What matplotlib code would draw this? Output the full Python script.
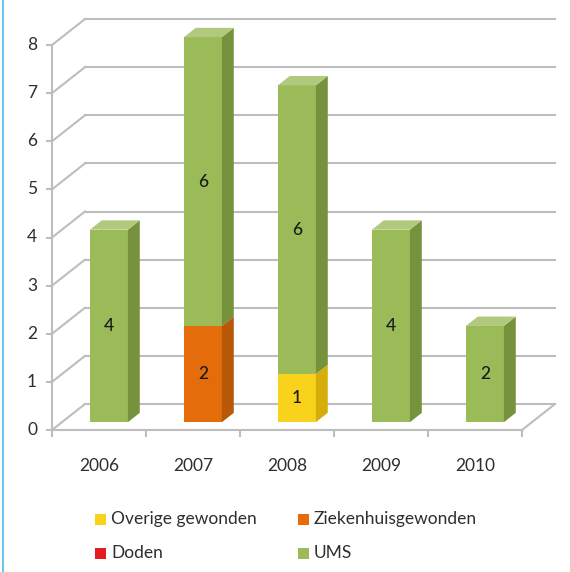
import matplotlib.pyplot as plt
from matplotlib.patches import Polygon, Rectangle

plt.rcParams['font.family'] = ['Lato', 'DejaVu Sans']

# data
years = ['2006', '2007', '2008', '2009', '2010']
overige = [0, 0, 1, 0, 0]
ziekenhuis = [0, 2, 0, 0, 0]
doden = [0, 0, 0, 0, 0]
ums = [4, 6, 6, 4, 2]
y_ticks = [0, 1, 2, 3, 4, 5, 6, 7, 8]

series_names = ['Overige gewonden', 'Ziekenhuisgewonden', 'Doden', 'UMS']
series_vals = [overige, ziekenhuis, doden, ums]
# front, side, top colours
series_cols = [('#F9D21C', '#D6AE0C', '#FBE36A'),
               ('#E46C0A', '#B85808', '#F0954A'),
               ('#E31B23', '#B0141A', '#EE5A60'),
               ('#9BBB59', '#76923C', '#B0C97C')]

# layout (pixels -> data units)
W, H = 570, 572
PX_X = 94.0          # px per category
PX_Y = 48.125        # px per unit
X0, Y0 = 52, 430     # front-left origin in px
DX, DY = 33 / PX_X, 26 / PX_Y   # floor depth
BAR_W = 38 / PX_X
F_FRONT, F_BACK = 0.30, 0.66
GRID = '#BDBDBD'
TXT = '#2E2E2E'
FS = 12.5

fig = plt.figure(figsize=(W / 100, H / 100), dpi=100)
ax = fig.add_axes([0, 0, 1, 1])
ax.set_xlim(-0.5 - X0 / PX_X, -0.5 + (W - X0) / PX_X)
ax.set_ylim((Y0 - H) / PX_Y, Y0 / PX_Y)
ax.axis('off')

xl, xr = -0.5, len(years) - 0.5
ymax = y_ticks[-1]

# back wall + left wall gridlines
for v in y_ticks:
    ax.plot([xl + DX, xr + DX], [v + DY, v + DY], color=GRID, lw=1.5, zorder=1)
    ax.plot([xl, xl + DX], [v, v + DY], color=GRID, lw=1.5, zorder=1)
    ax.plot([xl - 5 / PX_X, xl], [v, v], color=GRID, lw=1.5, zorder=1)
    ax.text(xl - 20 / PX_X, v, str(v), ha='center', va='center', fontsize=FS, color=TXT)
ax.plot([xl, xl], [0, ymax], color=GRID, lw=1.5, zorder=1)

# floor
ax.plot([xl, xr], [0, 0], color=GRID, lw=1.5, zorder=1)
ax.plot([xr, xr + DX], [0, DY], color=GRID, lw=1.5, zorder=1)
for b in range(len(years) + 1):
    ax.plot([b - 0.5, b - 0.5], [0, -6 / PX_Y], color=GRID, lw=1.5, zorder=1)

for i, yr in enumerate(years):
    ax.text(i, -36 / PX_Y, yr, ha='center', va='center', fontsize=FS, color=TXT)

# bars
fx, fy = F_FRONT * DX, F_FRONT * DY
sx, sy = (F_BACK - F_FRONT) * DX, (F_BACK - F_FRONT) * DY
for i in range(len(years)):
    bottom = 0
    left = i - BAR_W / 2 + fx
    right = i + BAR_W / 2 + fx
    for vals, (cf, cs, ct) in zip(series_vals, series_cols):
        v = vals[i]
        if v == 0:
            continue
        y0, y1 = bottom + fy, bottom + v + fy
        ax.add_patch(Polygon([(left, y0), (right, y0), (right, y1), (left, y1)],
                             closed=True, facecolor=cf, edgecolor='none', zorder=3))
        ax.add_patch(Polygon([(right, y0), (right + sx, y0 + sy), (right + sx, y1 + sy), (right, y1)],
                             closed=True, facecolor=cs, edgecolor='none', zorder=3))
        ax.add_patch(Polygon([(left, y1), (right, y1), (right + sx, y1 + sy), (left + sx, y1 + sy)],
                             closed=True, facecolor=ct, edgecolor='none', zorder=3))
        ax.text((left + right) / 2, (y0 + y1) / 2, str(v), ha='center', va='center',
                fontsize=FS, color='#1A1A1A', fontweight='medium', zorder=4)
        bottom += v

# legend
leg_pos = [(95, 519), (298, 519), (95, 553), (298, 553)]
for name, (cf, cs, ct), (lx, ly) in zip(series_names, series_cols, leg_pos):
    fig.add_artist(Rectangle((lx / W, 1 - (ly + 5.5) / H), 11 / W, 11 / H,
                             transform=fig.transFigure, facecolor=cf, edgecolor='none'))
    fig.text((lx + 16) / W, 1 - ly / H, name, ha='left', va='center', fontsize=FS, color=TXT)

# blue frame line on the left
fig.add_artist(plt.Line2D([3 / W, 3 / W], [0, 1], transform=fig.transFigure, color='#6EC6EE', lw=1.5))

fig.savefig('out.png', dpi=100)
